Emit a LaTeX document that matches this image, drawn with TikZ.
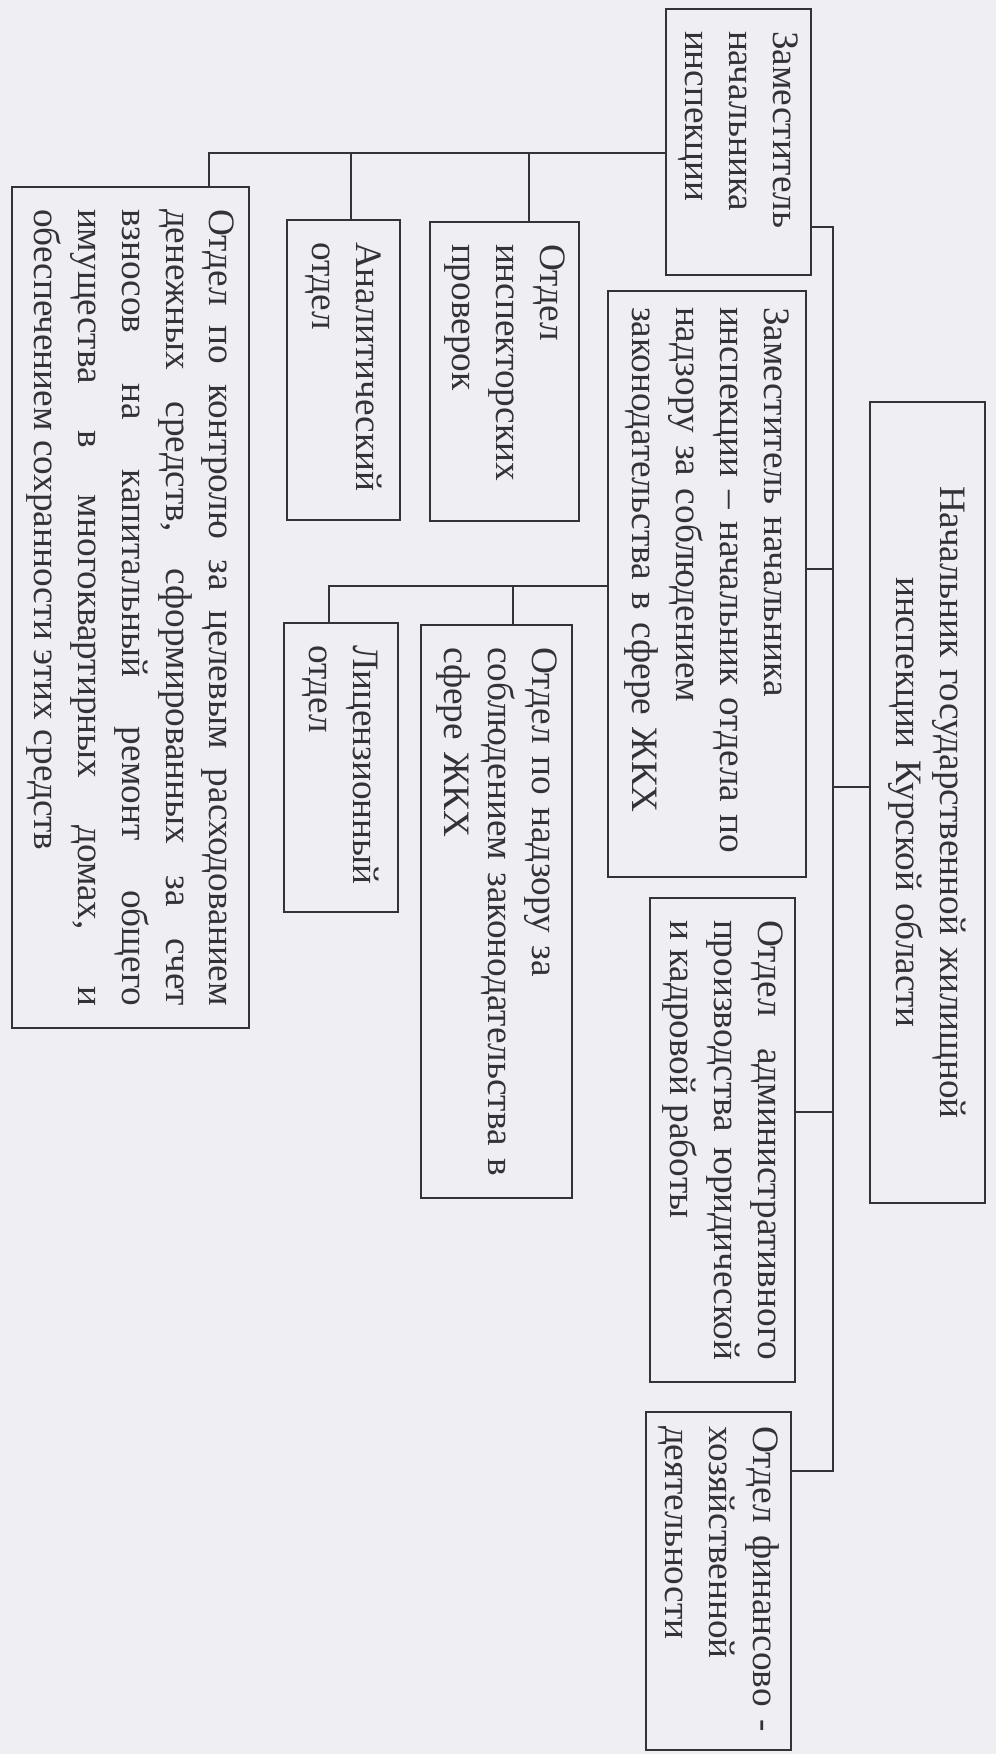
\documentclass[tikz,border=0pt]{standalone}
\usepackage{fontspec}
\setmainfont{Liberation Serif}
\usepackage{tikz}

\definecolor{paper}{RGB}{238,238,243}
\definecolor{ink}{RGB}{50,50,55}
\newcommand{\orgfont}{\fontsize{10.6}{12.5}\selectfont}

\begin{document}
\begin{tikzpicture}[
    orgbox/.style={draw=ink, line width=0.7pt, rotate=-90, inner xsep=0.22cm, inner ysep=0pt,
        text=ink, font=\orgfont, align=left},
    link/.style={draw=ink, line width=0.7pt}]
    % The scanned sheet
    \fill[paper] (0,0) rectangle (9.96,-17.54);
    \useasboundingbox (0,0) rectangle (9.96,-17.54);
    % Head of the inspection and the first deputy
    \node[orgbox, align=center, minimum width=8.01cm, minimum height=1.15cm, text width=7.57cm]
        (chief) at (9.275,-8.025) {Начальник государственной жилищной\\ инспекции Курской области};
    \node[orgbox, minimum width=2.66cm, minimum height=1.45cm, text width=2.22cm]
        (dep1) at (7.385,-1.42) {Заместитель\\ начальника\\ инспекции};
    \node[orgbox, inner xsep=0.16cm, minimum width=5.86cm, minimum height=1.98cm, text width=5.54cm]
        (dep2) at (7.07,-5.84) {Заместитель начальника\\ инспекции – начальник отдела по\\ надзору за соблюдением\\ законодательства в сфере ЖКХ};
    \node[orgbox, align=justify, minimum width=4.84cm, minimum height=1.45cm, text width=4.40cm]
        (admin) at (7.225,-11.40) {Отдел административного\linebreak производства юридической\linebreak и кадровой работы};
    \node[orgbox, inner xsep=0.14cm, minimum width=3.38cm, minimum height=1.45cm, text width=3.10cm]
        (finans) at (7.185,-15.81) {Отдел финансово -\\ хозяйственной\\ деятельности};
    % Departments under the first deputy
    \node[orgbox, minimum width=2.99cm, minimum height=1.49cm, text width=2.55cm]
        (inspect) at (5.045,-3.715) {Отдел\\ инспекторских\\ проверок};
    \node[orgbox, minimum width=3.00cm, minimum height=1.13cm, text width=2.56cm]
        (analytic) at (3.435,-3.70) {Аналитический\\ отдел};
    \node[orgbox, align=justify, minimum width=8.41cm, minimum height=2.37cm, text width=7.97cm]
        (kontrol) at (1.305,-6.075) {Отдел по контролю за целевым расходованием\linebreak
        денежных средств, сформированных за счет\linebreak
        взносов на капитальный ремонт общего\linebreak
        имущества в многоквартирных домах, и\linebreak
        обеспечением сохранности этих средств};
    % Departments under the second deputy
    \node[orgbox, minimum width=5.73cm, minimum height=1.51cm, text width=5.29cm]
        (nadzor) at (4.965,-9.115) {Отдел по надзору за\\ соблюдением законодательства в\\ сфере ЖКХ};
    \node[orgbox, minimum width=2.89cm, minimum height=1.14cm, text width=2.45cm]
        (license) at (3.41,-7.675) {Лицензионный\\ отдел};
    % Main line on the right
    \coordinate (t1) at (8.33,-2.27);
    \coordinate (t2) at (8.33,-14.71);
    \coordinate (z1) at (8.33,-5.69);
    \coordinate (c1) at (8.33,-7.87);
    \coordinate (m1) at (8.33,-11.12);
    \draw[link] (dep1.north |- t1) -- (t1) -- (t2) -- (t2 -| finans.north);
    \draw[link] (z1 -| dep2.north) -- (z1);
    \draw[link] (c1) -- (c1 -| chief.south);
    \draw[link] (m1 -| admin.north) -- (m1);
    % Line of the first deputy
    \coordinate (k1) at (2.09,-1.53);
    \coordinate (a1) at (3.51,-1.53);
    \coordinate (i1) at (5.29,-1.53);
    \draw[link] (dep1.south |- k1) -- (k1) -- (k1 |- kontrol.west);
    \draw[link] (a1) -- (a1 |- analytic.west);
    \draw[link] (i1) -- (i1 |- inspect.west);
    % Line of the second deputy
    \coordinate (l2) at (3.29,-5.86);
    \coordinate (n2) at (5.13,-5.86);
    \draw[link] (dep2.south |- l2) -- (l2) -- (l2 |- license.west);
    \draw[link] (n2) -- (n2 |- nadzor.west);
\end{tikzpicture}
\end{document}
